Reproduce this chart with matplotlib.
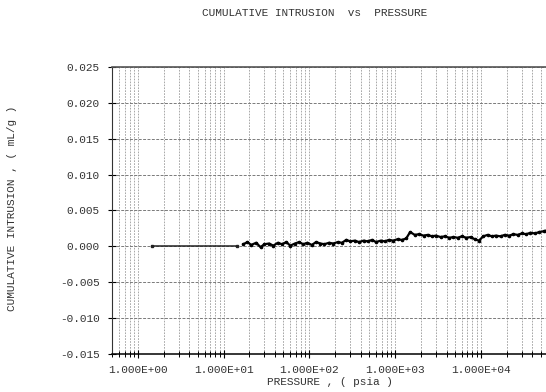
import matplotlib
matplotlib.use("Agg")
import matplotlib.pyplot as plt
from matplotlib.ticker import FixedLocator, FuncFormatter, LogLocator, NullFormatter

# Low-pressure fill segment (psia, mL/g)
fill_pressure = [1.45, 14.3]
fill_intrusion = [0.0, 0.0]

# Intrusion run (psia, mL/g)
pressure = [
    17, 19, 21, 24, 27, 30, 34, 38, 43, 48, 54, 60, 68, 76, 85, 95, 107, 120,
    135, 150, 170, 190, 215, 240, 270, 300, 340, 380, 430, 480, 540, 600, 680,
    760, 850, 950, 1070, 1200, 1350, 1500, 1700, 1900, 2150, 2400, 2700, 3000,
    3400, 3800, 4300, 4800, 5400, 6000, 6800, 7600, 8500, 9500, 10700, 12000,
    13500, 15000, 17000, 19000, 21500, 24000, 27000, 30000, 34000, 38000,
    43000, 48000, 54000, 58000,
]
intrusion = [
    0.0003, 0.0006, 0.0002, 0.0005, -0.0001, 0.0003, 0.0004, 0.0001, 0.0005,
    0.0003, 0.0006, 0.0001, 0.0004, 0.0006, 0.0003, 0.0005, 0.0002, 0.0006,
    0.0004, 0.0003, 0.0005, 0.0004, 0.0006, 0.0005, 0.0009, 0.0007, 0.0008,
    0.0006, 0.0008, 0.0007, 0.0009, 0.0006, 0.0008, 0.0007, 0.0009, 0.0008,
    0.0010, 0.0009, 0.0011, 0.0020, 0.0016, 0.0017, 0.0015, 0.0016, 0.0014,
    0.0015, 0.0013, 0.0014, 0.0012, 0.0013, 0.0012, 0.0014, 0.0012, 0.0013,
    0.0010, 0.0008, 0.0014, 0.0016, 0.0014, 0.0015, 0.0014, 0.0016, 0.0015,
    0.0017, 0.0016, 0.0018, 0.0017, 0.0019, 0.0018, 0.0020, 0.0021, 0.0022,
]

y_ticks = [-0.015, -0.010, -0.005, 0.000, 0.005, 0.010, 0.015, 0.020, 0.025]
x_ticks = [1e0, 1e1, 1e2, 1e3, 1e4]

FONT = "Liberation Mono"
FS = 8

fig = plt.figure(figsize=(5.46, 3.92), dpi=100)
ax = fig.add_axes([112 / 546, 1 - 354 / 392, (566.5 - 112) / 546, (354 - 67) / 392])

ax.set_xscale("log")
ax.set_xlim(0.5, 1e5)
ax.set_ylim(-0.015, 0.025)

ax.plot(fill_pressure, fill_intrusion, color="#222222", lw=1.1,
        marker="s", ms=2.0, mec="#222222", mfc="#222222")
ax.plot(pressure, intrusion, color="black", lw=1.6,
        marker="o", ms=1.6, mec="black", mfc="black")

ax.xaxis.set_major_locator(FixedLocator(x_ticks))
ax.xaxis.set_minor_locator(LogLocator(base=10, subs=range(2, 10), numticks=20))
ax.xaxis.set_major_formatter(FuncFormatter(lambda v, _: f"{v:.3E}"))
ax.xaxis.set_minor_formatter(NullFormatter())
ax.yaxis.set_major_locator(FixedLocator(y_ticks))
ax.yaxis.set_major_formatter(FuncFormatter(lambda v, _: f"{round(v, 3) + 0.0:.3f}"))

ax.grid(True, which="major", axis="y", color="#7a7a7a", lw=0.7, ls=(0, (3, 1.5)))
ax.grid(True, which="both", axis="x", color="#9a9a9a", lw=0.6, ls=(0, (2, 1.5)))

ax.tick_params(axis="both", which="both", direction="inout", color="black",
               labelsize=FS, top=False, right=False)
ax.tick_params(axis="y", which="major", length=6, width=0.8, pad=6)
ax.tick_params(axis="x", which="major", length=6, width=0.8, pad=5)
ax.tick_params(axis="x", which="minor", length=5, width=0.7)
for lab in ax.get_xticklabels() + ax.get_yticklabels():
    lab.set_fontfamily(FONT)
    lab.set_color("#333333")

ax.spines["right"].set_visible(False)
ax.spines["top"].set_color("#555555")
ax.spines["top"].set_linewidth(1.2)
ax.spines["left"].set_color("#333333")
ax.spines["bottom"].set_color("black")
ax.spines["bottom"].set_linewidth(1.1)

fig.text(315 / 546, 1 - 13 / 392, "CUMULATIVE INTRUSION  vs  PRESSURE",
         ha="center", va="center", fontsize=FS, family=FONT, color="#333333")
fig.text(330 / 546, 1 - 382 / 392, "PRESSURE , ( psia )",
         ha="center", va="center", fontsize=FS, family=FONT, color="#333333")
fig.text(12 / 546, 1 - 208 / 392, "CUMULATIVE INTRUSION , ( mL/g )",
         ha="center", va="center", rotation=90, fontsize=FS, family=FONT,
         color="#333333")

fig.savefig("out.png", dpi=100)
